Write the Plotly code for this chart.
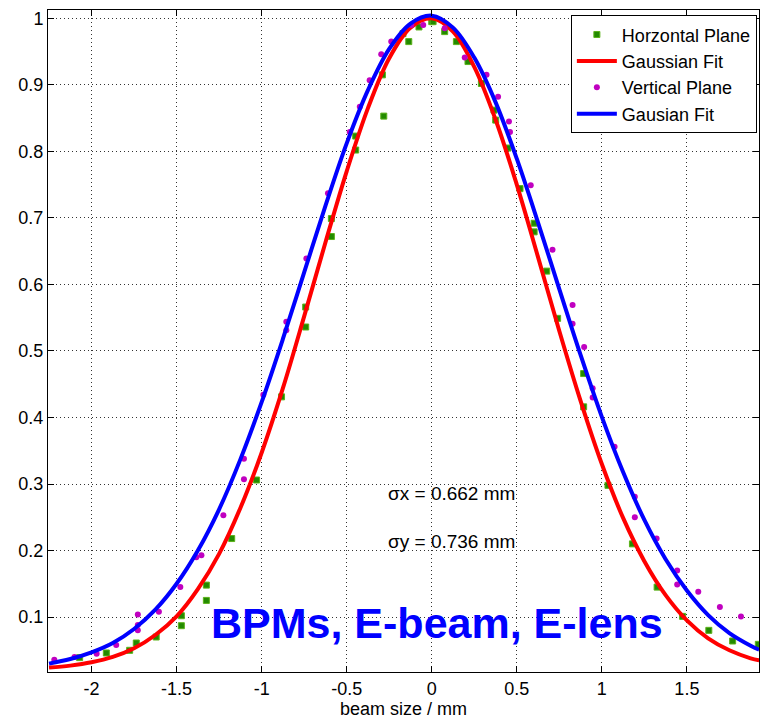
import plotly.graph_objects as go

# horizontal plane measurements (green squares)
h_x = [-2.07, -1.913, -1.776, -1.737, -1.62, -1.472, -1.472, -1.325, -1.325, -1.176,
       -1.03, -0.883, -0.741, -0.741, -0.59, -0.59, -0.447, -0.447, -0.282, -0.29,
       -0.169, -0.135, -0.075, 0.0, 0.008, 0.076, 0.145, 0.213, 0.292, 0.366,
       0.376, 0.448, 0.519, 0.602, 0.602, 0.676, 0.74, 0.893, 0.893, 1.036,
       1.18, 1.325, 1.475, 1.629, 1.769, 1.92]
h_y = [0.039, 0.046, 0.050, 0.061, 0.070, 0.102, 0.087, 0.148, 0.125, 0.218,
       0.306, 0.431, 0.566, 0.536, 0.699, 0.672, 0.823, 0.802, 0.853, 0.915,
       0.977, 0.965, 0.987, 0.995, 0.995, 0.980, 0.965, 0.935, 0.902, 0.862,
       0.847, 0.805, 0.744, 0.692, 0.679, 0.620, 0.549, 0.466, 0.416, 0.298,
       0.210, 0.145, 0.101, 0.080, 0.064, 0.059]

# vertical plane measurements (magenta dots)
v_x = [-2.219, -2.1, -1.97, -1.855, -1.728, -1.728, -1.728, -1.604, -1.478, -1.384,
       -1.354, -1.225, -1.104, -1.104, -0.99, -0.855, -0.855, -0.737, -0.61, -0.482,
       -0.423, -0.365, -0.297, -0.238, -0.12, -0.05, 0.076, 0.194, 0.322, 0.39,
       0.454, 0.46, 0.582, 0.71, 0.828, 0.828, 0.896, 0.946, 0.946, 1.075,
       1.194, 1.194, 1.322, 1.443, 1.443, 1.567, 1.694, 1.818]
v_y = [0.036, 0.040, 0.045, 0.058, 0.104, 0.080, 0.088, 0.108, 0.145, 0.190,
       0.193, 0.253, 0.338, 0.307, 0.434, 0.544, 0.531, 0.639, 0.737, 0.829,
       0.867, 0.907, 0.946, 0.965, 0.990, 0.990, 0.985, 0.941, 0.915, 0.882,
       0.845, 0.829, 0.749, 0.652, 0.569, 0.541, 0.506, 0.444, 0.430, 0.356,
       0.281, 0.250, 0.218, 0.170, 0.149, 0.138, 0.115, 0.101]

# gaussian fit curves at 0.125 steps
fit_x = [-2.25, -2.125, -2.0, -1.875, -1.75, -1.625, -1.5, -1.375, -1.25, -1.125,
         -1.0, -0.875, -0.75, -0.625, -0.5, -0.375, -0.25, -0.125, 0.0, 0.125,
         0.25, 0.375, 0.5, 0.625, 0.75, 0.875, 1.0, 1.125, 1.25, 1.375,
         1.5, 1.625, 1.75, 1.875, 1.925]
red_y = [0.024, 0.027, 0.032, 0.040, 0.053, 0.073, 0.101, 0.142, 0.195, 0.264,
         0.347, 0.444, 0.552, 0.663, 0.770, 0.865, 0.940, 0.986, 1.0, 0.980,
         0.927, 0.848, 0.750, 0.641, 0.530, 0.425, 0.330, 0.249, 0.184, 0.133,
         0.095, 0.068, 0.050, 0.038, 0.035]
blue_y = [0.030, 0.037, 0.047, 0.061, 0.082, 0.111, 0.150, 0.200, 0.262, 0.337,
          0.423, 0.518, 0.618, 0.718, 0.812, 0.892, 0.954, 0.992, 1.004, 0.986,
          0.941, 0.874, 0.789, 0.693, 0.593, 0.494, 0.401, 0.318, 0.246, 0.187,
          0.140, 0.103, 0.076, 0.057, 0.051]

x_ticks = [-2, -1.5, -1, -0.5, 0, 0.5, 1, 1.5]
x_labels = ["-2", "-1.5", "-1", "-0.5", "0", "0.5", "1", "1.5"]
y_ticks = [0.1, 0.2, 0.3, 0.4, 0.5, 0.6, 0.7, 0.8, 0.9, 1.0]
y_labels = ["0.1", "0.2", "0.3", "0.4", "0.5", "0.6", "0.7", "0.8", "0.9", "1"]

FONT = "Liberation Sans, Arial, sans-serif"

fig = go.Figure()

fig.add_trace(go.Scatter(
    x=h_x, y=h_y, mode="markers", name="Horzontal Plane",
    marker=dict(symbol="square", size=6, color="#238a00",
                line=dict(color="#5cb21a", width=1)),
))
fig.add_trace(go.Scatter(
    x=fit_x, y=red_y, mode="lines", name="Gaussian Fit",
    line=dict(color="#ff0000", width=4, shape="spline", smoothing=1),
))
fig.add_trace(go.Scatter(
    x=v_x, y=v_y, mode="markers", name="Vertical Plane",
    marker=dict(symbol="circle", size=6, color="#c000c0"),
))
fig.add_trace(go.Scatter(
    x=fit_x, y=blue_y, mode="lines", name="Gausian Fit",
    line=dict(color="#0000ff", width=4, shape="spline", smoothing=1),
))

axis_common = dict(
    showline=True, linecolor="black", linewidth=1, mirror="allticks",
    ticks="inside", ticklen=6, tickcolor="black",
    showgrid=True, gridcolor="#333333", gridwidth=1, griddash="1px,3px",
    zeroline=False, automargin=False,
    tickfont=dict(size=18, color="black", family=FONT),
)

fig.update_xaxes(range=[-2.256, 1.924], tickvals=x_ticks, ticktext=x_labels,
                 title=dict(text="beam size / mm", font=dict(size=18, family=FONT, color="black"),
                            standoff=6),
                 **axis_common)
fig.update_yaxes(range=[0.0174, 1.0125], tickvals=y_ticks, ticktext=y_labels,
                 **axis_common)

# sigma values
fig.add_annotation(x=-0.266, y=0.285, xref="x", yref="y", xanchor="left",
                   text="σx = 0.662 mm", showarrow=False,
                   font=dict(size=19, family=FONT, color="black"))
fig.add_annotation(x=-0.266, y=0.213, xref="x", yref="y", xanchor="left",
                   text="σy = 0.736 mm", showarrow=False,
                   font=dict(size=19, family=FONT, color="black"))

fig.add_annotation(x=0.547, y=0.035, xref="paper", yref="paper",
                   text="<b>BPMs, E-beam, E-lens</b>", showarrow=False,
                   font=dict(size=43, family=FONT, color="#0000ff"))

fig.update_layout(
    width=761, height=719,
    margin=dict(l=48, r=2, t=10, b=47),
    paper_bgcolor="white", plot_bgcolor="white",
    font=dict(family=FONT, color="black"),
    showlegend=True,
    legend=dict(x=0.997, y=0.992, xanchor="right", yanchor="top",
                bgcolor="white", bordercolor="black", borderwidth=1,
                font=dict(size=18, family=FONT, color="black"),
                itemwidth=40, tracegroupgap=0),
)

# page body has a default 8px margin, drop it so the figure sits at the corner
fig.write_html("out.html", config={"displayModeBar": False},
               post_script="document.body.style.margin='0px';")
